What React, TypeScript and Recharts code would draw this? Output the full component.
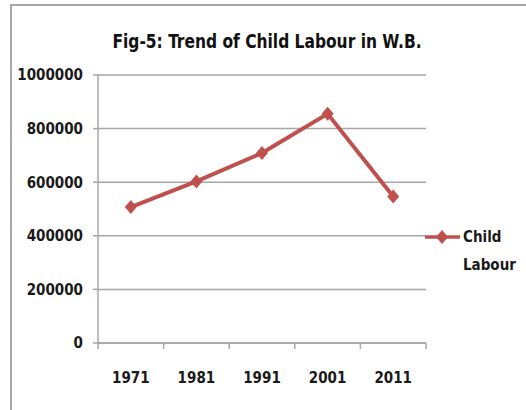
import * as React from 'react';
import { LineChart, Line, XAxis, YAxis, CartesianGrid, Legend } from 'recharts';

const years = ['1971', '1981', '1991', '2001', '2011'];
const childLabour = [507000, 603000, 709000, 855000, 547000];
const yTicks = [0, 200000, 400000, 600000, 800000, 1000000];

const data = years.map((year, i) => ({ year, labour: childLabour[i] }));

const FONT = '"Liberation Sans Narrow", "DejaVu Sans Condensed", "Arial Narrow", sans-serif';
const RED = '#C0504D';
const GRID = '#a6a6a6';

const Diamond = (props: any) => {
  const { cx, cy } = props;
  if (cx == null || cy == null) return null;
  return <path d={`M${cx},${cy - 7} L${cx + 6},${cy} L${cx},${cy + 7} L${cx - 6},${cy} Z`} fill={RED} />;
};

// labels sit in the middle of a category, tick marks on the category edges
const YearTick = (props: any) => {
  const { x, y, payload, index, width, visibleTicksCount } = props;
  const band = width / visibleTicksCount;
  return (
    <g>
      <line x1={x - band / 2} x2={x - band / 2} y1={y - 8} y2={y - 2} stroke={GRID} strokeWidth={1.5} />
      {index === visibleTicksCount - 1 &&
        <line x1={x + band / 2} x2={x + band / 2} y1={y - 8} y2={y - 2} stroke={GRID} strokeWidth={1.5} />}
      <text x={x} y={y + 32} textAnchor="middle" fontFamily={FONT} fontWeight="bold" fontSize={15} fill="#1a1a1a">
        {payload.value}
      </text>
    </g>
  );
};

const LegendBox = () => (
  <div style={{ position: 'relative', width: 100, height: 60, fontFamily: FONT, fontWeight: 'bold', fontSize: 15, color: '#1a1a1a' }}>
    <svg width={40} height={20} style={{ position: 'absolute', left: 0, top: 0 }}>
      <line x1={1} x2={36} y1={10} y2={10} stroke={RED} strokeWidth={3.5} />
      <path d="M18,3 L24,10 L18,17 L12,10 Z" fill={RED} />
    </svg>
    <div style={{ position: 'absolute', left: 39, top: 0, lineHeight: '28px', marginTop: -4 }}>
      Child<br />Labour
    </div>
  </div>
);

export default function App() {
  return (
    <div style={{ position: 'fixed', left: 0, top: 0, width: 526, height: 410, background: '#fff', overflow: 'hidden' }}>
      <div style={{ position: 'absolute', left: 10, top: 4, width: 530, height: 420, borderLeft: `2px solid ${GRID}`, borderTop: `2px solid ${GRID}` }} />
      <div style={{ position: 'absolute', left: 0, top: 29, width: 534, textAlign: 'center', fontFamily: FONT, fontWeight: 'bold', fontSize: 20, color: '#111', transform: 'scaleX(0.86)' }}>
        Fig-5: Trend of Child Labour in W.B.
      </div>
      <LineChart width={526} height={410} data={data} margin={{ top: 75, right: 100, bottom: 17, left: 0 }}>
        <CartesianGrid horizontal vertical={false} stroke={GRID} strokeWidth={1.5} />
        <XAxis dataKey="year" scale="band" height={50} axisLine={{ stroke: GRID, strokeWidth: 1.5 }} tickLine={false} tick={<YearTick />} interval={0} />
        <YAxis
          width={98}
          domain={[0, 1000000]}
          ticks={yTicks}
          interval={0}
          axisLine={{ stroke: GRID, strokeWidth: 1.5 }}
          tickLine={{ stroke: GRID, strokeWidth: 1.5 }}
          tickSize={5}
          tickMargin={10}
          tick={{ fontFamily: FONT, fontWeight: 'bold', fontSize: 15, fill: '#1a1a1a' }}
        />
        <Legend
          verticalAlign="middle"
          layout="horizontal"
          wrapperStyle={{ left: 424, top: 227, width: 100 }}
          content={() => <LegendBox />}
        />
        <Line
          dataKey="labour"
          name="Child Labour"
          stroke={RED}
          strokeWidth={4}
          dot={<Diamond />}
          activeDot={false}
          isAnimationActive={false}
        />
      </LineChart>
    </div>
  );
}
